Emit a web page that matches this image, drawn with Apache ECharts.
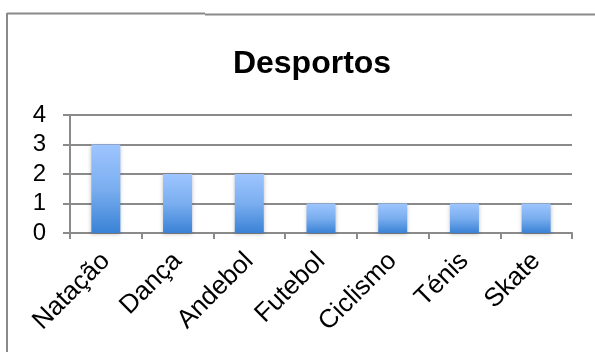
<!DOCTYPE html>
<html>
<head>
<meta charset="utf-8">
<script src="https://cdn.jsdelivr.net/npm/echarts@6/dist/echarts.min.js"></script>
<style>
  html, body { margin: 0; padding: 0; background: #fff; }
  #chart { width: 595px; height: 352px; }
</style>
</head>
<body>
<div id="chart"></div>
<script>
// Sports and how many people chose each one
const categories = ['Natação', 'Dança', 'Andebol', 'Futebol', 'Ciclismo', 'Ténis', 'Skate'];
const values = [3, 2, 2, 1, 1, 1, 1];
const yTicks = [0, 1, 2, 3, 4];
const chartTitle = 'Desportos';

const chart = echarts.init(document.getElementById('chart'));
const font = 'Liberation Sans, Arial, sans-serif';

chart.setOption({
  animation: false,
  backgroundColor: '#ffffff',
  title: {
    text: chartTitle,
    left: 307,
    textAlign: 'center',
    top: 43,
    textStyle: {
      fontFamily: font,
      fontWeight: 'bold',
      fontSize: 32,
      color: '#000'
    }
  },
  graphic: [
    { type: 'line', shape: { x1: 7, y1: 13.5, x2: 205, y2: 13.5 }, style: { stroke: '#8a8a8a', lineWidth: 2 } },
    { type: 'line', shape: { x1: 205, y1: 14.5, x2: 595, y2: 14.5 }, style: { stroke: '#8a8a8a', lineWidth: 2 } },
    { type: 'line', shape: { x1: 7, y1: 13, x2: 7, y2: 352 }, style: { stroke: '#8a8a8a', lineWidth: 2 } }
  ],
  grid: { left: 70, right: 23, top: 115, bottom: 119 },
  xAxis: {
    type: 'category',
    data: categories,
    axisLine: { show: true, lineStyle: { color: '#8a8a8a', width: 2 } },
    axisTick: { show: true, alignWithLabel: false, length: 6, lineStyle: { color: '#8a8a8a', width: 2 } },
    axisLabel: {
      rotate: 45,
      margin: 24,
      interval: 0,
      color: '#000',
      fontFamily: font,
      fontSize: 26
    }
  },
  yAxis: {
    type: 'value',
    min: yTicks[0],
    max: yTicks[yTicks.length - 1],
    interval: 1,
    axisLine: { show: true, lineStyle: { color: '#8a8a8a', width: 2 } },
    axisTick: { show: true, length: 7, lineStyle: { color: '#8a8a8a', width: 2 } },
    axisLabel: {
      margin: 24,
      color: '#000',
      fontFamily: font,
      fontSize: 24
    },
    splitLine: { show: true, lineStyle: { color: '#8a8a8a', width: 2 } }
  },
  series: [{
    type: 'bar',
    data: values,
    barWidth: 29,
    itemStyle: {
      color: new echarts.graphic.LinearGradient(0, 0, 0, 1, [
        { offset: 0, color: '#9ec5ff' },
        { offset: 0.5, color: '#7aaeef' },
        { offset: 1, color: '#3a82d6' }
      ]),
      shadowColor: 'rgba(0,0,0,0.25)',
      shadowBlur: 4,
      shadowOffsetY: 1
    }
  }]
});
</script>
</body>
</html>
